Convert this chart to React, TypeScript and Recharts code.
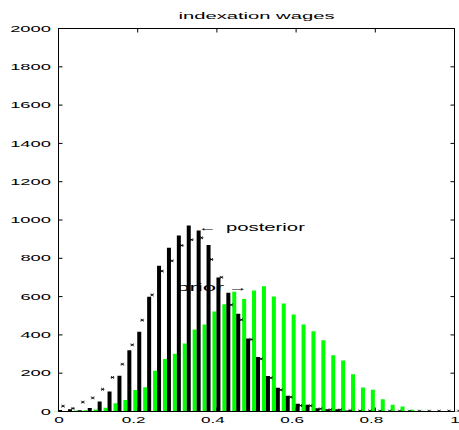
import React from 'react';
import { ComposedChart, Bar, Line, XAxis, YAxis, ReferenceDot, Label } from 'recharts';

const BINS = [
  0, 0.025, 0.05, 0.075, 0.1, 0.125, 0.15, 0.175, 0.2, 0.225,
  0.25, 0.275, 0.3, 0.325, 0.35, 0.375, 0.4, 0.425, 0.45, 0.475,
  0.5, 0.525, 0.55, 0.575, 0.6, 0.625, 0.65, 0.675, 0.7, 0.725,
  0.75, 0.775, 0.8, 0.825, 0.85, 0.875, 0.9, 0.925, 0.95, 0.975, 1,
];
const PRIOR = [
  2, 3, 5, 6, 10, 20, 43, 60, 112, 127,
  213, 274, 301, 355, 428, 454, 522, 560, 625, 588,
  632, 654, 600, 564, 506, 454, 419, 372, 294, 266,
  195, 125, 113, 64, 35, 26, 9, 4, 3, 3, 3,
];
const POSTERIOR = [
  8, 12, 6, 18, 52, 105, 187, 320, 417, 599,
  761, 855, 919, 971, 945, 870, 700, 620, 510, 381,
  284, 186, 124, 82, 40, 35, 17, 12, 12, 5,
  3, 3, 3, 2, 2, 2, 2, 2, 2, 2, 2,
];
const MARKS = [
  28, 16, 49, 71, 116, 178, 247, 348, 477, 609,
  733, 787, 867, 897, 907, 794, 701, 557, 479, 376,
  275, 176, 113, 75, 31, 30, 14, 9, 9, 5,
  3, 3, 2, 2, 2, 2, 2, 2, 2, 2, 2,
];
const X_TICKS = [0, 0.2, 0.4, 0.6, 0.8, 1];
const Y_TICKS = [0, 200, 400, 600, 800, 1000, 1200, 1400, 1600, 1800, 2000];
const TITLE = 'indexation wages';
const POST_LABEL = 'posterior';
const PRIOR_LABEL = 'prior';
const POST_AT = { x: 0.352, y: 960 };
const PRIOR_AT = { x: 0.479, y: 646 };

const data = BINS.map((b, i) => ({ bin: b, prior: PRIOR[i], posterior: POSTERIOR[i], mark: MARKS[i] }));

const FONT = "'Liberation Sans', Arial, Helvetica, sans-serif";

const YTick = (props: any) => {
  const { x, y, payload } = props;
  const s = String(payload.value);
  return (
    <text x={x} y={y} dy="0.35em" textAnchor="end" fontSize={9} fontFamily={FONT} fill="#000"
      textLength={s.length * 10.2} lengthAdjust="spacingAndGlyphs">{s}</text>
  );
};

const XTick = (props: any) => {
  const { x, y, payload } = props;
  const s = String(payload.value);
  const hasDot = s.includes('.');
  const len = s.replace('.', '').length * 9.6 + (hasDot ? 4.6 : 0);
  return (
    <text x={x} y={y} dx={hasDot ? -4 : 0.5} dy="0.71em" textAnchor="middle" fontSize={9} fontFamily={FONT} fill="#000"
      textLength={len} lengthAdjust="spacingAndGlyphs">{s}</text>
  );
};

const EmptyTick = () => <g />;

const StarDot = (props: any) => {
  const { cx, cy, index } = props;
  if (cx == null || cy == null) return <g key={index} />;
  const x = cx + 4.5;
  const d = `M${x - 1.4},${cy - 1.4}L${x + 1.4},${cy + 1.4}M${x - 1.4},${cy + 1.4}L${x + 1.4},${cy - 1.4}M${x - 1.8},${cy}L${x + 1.8},${cy}`;
  return <path key={index} d={d} stroke="#000" strokeWidth={0.8} fill="none" />;
};

const PosteriorNote = (props: any) => {
  const { cx, cy } = props;
  return (
    <g>
      <text x={cx} y={cy + 3.6} fontSize={11} fontFamily={FONT} fill="#000" textLength={19} lengthAdjust="spacingAndGlyphs">←</text>
      <text x={cx + 28} y={cy + 3.6} fontSize={11} fontFamily={FONT} fill="#000" textLength={79} lengthAdjust="spacingAndGlyphs">{POST_LABEL}</text>
    </g>
  );
};

const PriorNote = (props: any) => {
  const { cx, cy } = props;
  return (
    <g>
      <text x={cx} y={cy + 3.6} textAnchor="end" fontSize={11} fontFamily={FONT} fill="#000" textLength={20} lengthAdjust="spacingAndGlyphs">→</text>
      <text x={cx - 24} y={cy + 3.6} textAnchor="end" fontSize={11} fontFamily={FONT} fill="#000" textLength={48} lengthAdjust="spacingAndGlyphs">{PRIOR_LABEL}</text>
    </g>
  );
};

const TitleContent = (props: any) => {
  const vb = props.viewBox || {};
  return (
    <text x={vb.x + vb.width / 2} y={vb.y - 8.7} textAnchor="middle" fontSize={9} fontFamily={FONT} fill="#000"
      textLength={156} lengthAdjust="spacingAndGlyphs">{TITLE}</text>
  );
};

export default function App() {
  return (
    <div style={{ position: 'absolute', left: 0, top: 0, background: '#fff' }}>
      <ComposedChart width={459} height={430} data={data}
        margin={{ top: 27.5, right: 3.5, bottom: 0, left: 0 }}
        barGap={0} barCategoryGap={0.5}>
        <XAxis xAxisId="num" dataKey="bin" type="number" domain={[0, 1]} allowDataOverflow ticks={X_TICKS} interval={0}
          height={18.5} tickSize={-4} tickMargin={9.5} tick={XTick}
          axisLine={{ stroke: '#000' }} tickLine={{ stroke: '#000' }} />
        <XAxis xAxisId="cat" dataKey="bin" type="category" hide height={0} padding={{ left: -4.95, right: -4.95 }} />
        <XAxis xAxisId="top" orientation="top" dataKey="bin" type="number" domain={[0, 1]} allowDataOverflow ticks={X_TICKS} interval={0}
          height={1} tickSize={-4} tick={EmptyTick}
          axisLine={{ stroke: '#000' }} tickLine={{ stroke: '#000' }}>
          <Label content={TitleContent} />
        </XAxis>
        <YAxis yAxisId="left" type="number" domain={[0, 2000]} allowDataOverflow ticks={Y_TICKS} interval={0}
          width={58.5} tickSize={-4} tickMargin={11.5} tick={YTick}
          axisLine={{ stroke: '#000' }} tickLine={{ stroke: '#000' }} />
        <YAxis yAxisId="right" orientation="right" type="number" domain={[0, 2000]} allowDataOverflow ticks={Y_TICKS} interval={0}
          width={1} tickSize={-4} tick={EmptyTick}
          axisLine={{ stroke: '#000' }} tickLine={{ stroke: '#000' }} />
        <Bar xAxisId="cat" yAxisId="left" dataKey="prior" fill="#00ff00" isAnimationActive={false} />
        <Bar xAxisId="cat" yAxisId="left" dataKey="posterior" fill="#000000" isAnimationActive={false} />
        <Line xAxisId="cat" yAxisId="left" dataKey="mark" stroke="none" strokeWidth={0} dot={StarDot} activeDot={false} isAnimationActive={false} />
        <ReferenceDot xAxisId="num" yAxisId="left" x={POST_AT.x} y={POST_AT.y} r={0} shape={PosteriorNote} />
        <ReferenceDot xAxisId="num" yAxisId="left" x={PRIOR_AT.x} y={PRIOR_AT.y} r={0} shape={PriorNote} />
      </ComposedChart>
    </div>
  );
}
